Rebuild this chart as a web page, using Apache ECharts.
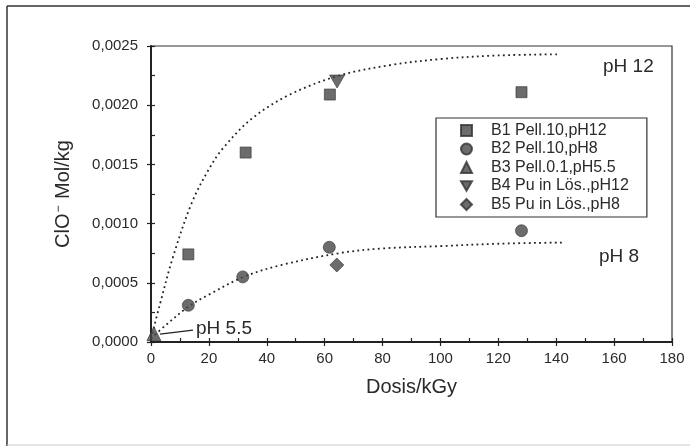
<!DOCTYPE html>
<html>
<head>
<meta charset="utf-8">
<script src="https://cdn.jsdelivr.net/npm/echarts@6/dist/echarts.min.js"></script>
<style>
  html, body { margin: 0; padding: 0; background: #fff; }
  #chart { width: 690px; height: 446px; }
</style>
</head>
<body>
<div id="chart"></div>
<script>
// Measured ClO- yield versus absorbed dose
const seriesNames = ['B1 Pell.10,pH12', 'B2 Pell.10,pH8', 'B3 Pell.0.1,pH5.5', 'B4 Pu in Lös.,pH12', 'B5 Pu in Lös.,pH8'];

const b1Dose = [12.9, 32.7, 61.8, 128];
const b1Conc = [0.00074, 0.0016, 0.00209, 0.00211];

const b2Dose = [12.9, 31.7, 61.6, 128];
const b2Conc = [0.00031, 0.00055, 0.0008, 0.00094];

const b3Dose = [1];
const b3Conc = [0.00007];

const b4Dose = [64.3];
const b4Conc = [0.0022];

const b5Dose = [64.2];
const b5Conc = [0.00065];

// Fitted saturation curves (dotted)
const fitPH12Dose = [0, 3, 7.5, 14, 20, 25, 35, 48, 65, 83, 100, 120, 141];
const fitPH12Conc = [0.00003, 0.00031, 0.00071, 0.00117, 0.00146, 0.00164, 0.00189, 0.00209, 0.00225, 0.00234, 0.00239, 0.00242, 0.00243];

const fitPH8Dose = [0, 5, 13, 20, 32, 45, 65, 80, 100, 120, 142];
const fitPH8Conc = [0.00003, 0.00014, 0.0003, 0.0004, 0.00055, 0.00065, 0.00075, 0.00079, 0.00081, 0.00083, 0.00084];

// Arrow pointing at the pH 5.5 sample
const arrowFrom = [14.5, 0.000101];
const arrowTo = [3.1, 0.000067];

const xTicks = { min: 0, max: 180, interval: 20 };
const yTicks = { min: 0, max: 0.0025, interval: 0.0005 };

const FONT = '"Liberation Sans", Arial, sans-serif';
const INK = '#2a2a2a';
const MARK = '#474747';

function pairs(xs, ys) { return xs.map((x, i) => [x, ys[i]]); }

const downTriangle = 'path://M0,0 L10,0 L5,8.66 Z';

const chart = echarts.init(document.getElementById('chart'), null, { renderer: 'canvas' });

const baseX = {
  type: 'value', min: xTicks.min, max: xTicks.max, interval: xTicks.interval,
  position: 'bottom', splitLine: { show: false }
};
const baseY = {
  type: 'value', min: yTicks.min, max: yTicks.max, interval: yTicks.interval,
  position: 'left', splitLine: { show: false }
};

function scatter(name, xs, ys, symbol, size) {
  return {
    name, type: 'scatter', xAxisIndex: 0, yAxisIndex: 0,
    symbol, symbolSize: size, symbolKeepAspect: true,
    itemStyle: { color: MARK, borderColor: '#333', borderWidth: 0.8 },
    data: pairs(xs, ys), z: 5
  };
}

function fitLine(xs, ys) {
  return {
    type: 'line', xAxisIndex: 0, yAxisIndex: 0, smooth: 0.35,
    showSymbol: false, silent: true,
    lineStyle: { color: '#222', width: 1.8, type: [1.8, 3.4] },
    data: pairs(xs, ys), z: 3
  };
}

const option = {
  backgroundColor: '#fff',
  animation: false,
  grid: { left: 151, right: 18, top: 46, bottom: 104, show: true, borderColor: '#333', borderWidth: 1.2, backgroundColor: 'transparent' },
  xAxis: [
    Object.assign({}, baseX, {
      name: 'Dosis/kGy', nameLocation: 'middle', nameGap: 35,
      nameTextStyle: { fontFamily: FONT, fontSize: 20, color: INK },
      axisLine: { show: true, lineStyle: { color: '#222', width: 2 } },
      axisTick: { show: true, inside: false, length: 4, lineStyle: { color: '#222', width: 1.2 } },
      axisLabel: { fontFamily: FONT, fontSize: 15, color: INK, margin: 9 }
    }),
    Object.assign({}, baseX, {
      axisLine: { show: false },
      axisTick: { show: true, inside: true, length: 4, lineStyle: { color: '#222', width: 1.2 } },
      minorTick: { show: true, splitNumber: 2, length: 4, lineStyle: { color: '#222', width: 1.2 } },
      axisLabel: { show: false }
    })
  ],
  yAxis: [
    Object.assign({}, baseY, {
      name: '{a|ClO}{s|−}{a| Mol/kg}', nameLocation: 'middle', nameGap: 78, nameRotate: 90,
      nameTextStyle: {
        fontFamily: FONT, color: INK,
        rich: {
          a: { fontFamily: FONT, fontSize: 20, color: INK },
          s: { fontFamily: FONT, fontSize: 12, color: INK, verticalAlign: 'top', padding: [0, 1, 0, 1] }
        }
      },
      axisLine: { show: true, lineStyle: { color: '#222', width: 2 } },
      axisTick: { show: true, inside: false, length: 4, lineStyle: { color: '#222', width: 1.2 } },
      axisLabel: {
        fontFamily: FONT, fontSize: 15, color: INK, margin: 13,
        formatter: v => v.toFixed(4).replace('.', ',')
      }
    }),
    Object.assign({}, baseY, {
      axisLine: { show: false },
      axisTick: { show: true, inside: true, length: 4, lineStyle: { color: '#222', width: 1.2 } },
      minorTick: { show: true, splitNumber: 2, length: 4, lineStyle: { color: '#222', width: 1.2 } },
      axisLabel: { show: false }
    })
  ],
  legend: {
    data: seriesNames,
    orient: 'vertical', left: 436, top: 118,
    padding: [4, 18, 4, 24],
    itemWidth: 11, itemHeight: 11, itemGap: 1.5,
    symbolKeepAspect: true,
    borderColor: '#333', borderWidth: 1.2,
    textStyle: { fontFamily: FONT, fontSize: 16, color: INK, lineHeight: 17, padding: [0, 0, 0, 14] },
    selectedMode: false
  },
  graphic: [
    { type: 'line', shape: { x1: 7, y1: 6, x2: 690, y2: 6 }, style: { stroke: '#333', lineWidth: 1.5 } },
    { type: 'line', shape: { x1: 7, y1: 6, x2: 7, y2: 446 }, style: { stroke: '#333', lineWidth: 1.5 } },
    { type: 'line', shape: { x1: 7, y1: 445, x2: 690, y2: 445 }, style: { stroke: '#ccc', lineWidth: 1 } },
    { type: 'text', left: 603, top: 57, style: { text: 'pH 12', font: '19px ' + FONT, fill: INK } },
    { type: 'text', left: 599, top: 247, style: { text: 'pH 8', font: '19px ' + FONT, fill: INK } },
    { type: 'text', left: 196, top: 319, style: { text: 'pH 5.5', font: '19px ' + FONT, fill: INK } }
  ],
  series: [
    fitLine(fitPH12Dose, fitPH12Conc),
    fitLine(fitPH8Dose, fitPH8Conc),
    scatter(seriesNames[0], b1Dose, b1Conc, 'rect', 11),
    scatter(seriesNames[1], b2Dose, b2Conc, 'circle', 12),
    scatter(seriesNames[2], b3Dose, b3Conc, 'triangle', 14),
    scatter(seriesNames[3], b4Dose, b4Conc, downTriangle, 15),
    scatter(seriesNames[4], b5Dose, b5Conc, 'diamond', 14),
    {
      type: 'line', xAxisIndex: 0, yAxisIndex: 0, data: [], silent: true,
      markLine: {
        silent: true, animation: false,
        symbol: ['none', 'arrow'], symbolSize: [0, 8],
        label: { show: false },
        lineStyle: { color: '#222', width: 1.2, type: 'solid' },
        data: [[{ coord: arrowFrom }, { coord: arrowTo }]]
      }
    }
  ]
};

chart.setOption(option);
</script>
</body>
</html>
